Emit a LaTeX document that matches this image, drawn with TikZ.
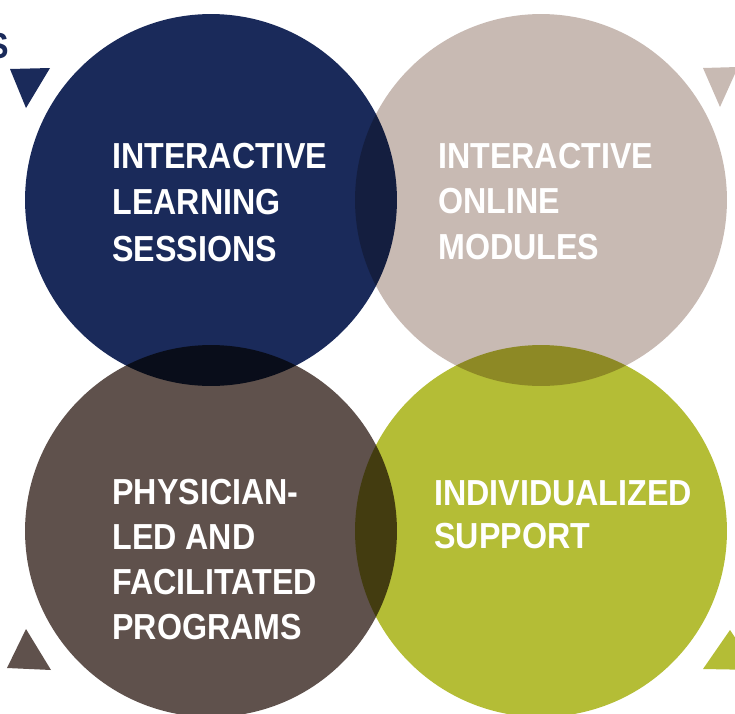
\documentclass[tikz,border=0pt]{standalone}
\usepackage{fontspec}
\newfontfamily\narrowsans[FakeStretch=0.89]{Liberation Sans}
\definecolor{navy}{HTML}{1A2A5A}
\definecolor{taupe}{HTML}{C8BAB3}
\definecolor{umber}{HTML}{5F514C}
\definecolor{olive}{HTML}{B4BD36}
\tikzset{bubble/.style={shape=circle,inner sep=0pt,minimum size=7.44cm,blend mode=multiply}}
\tikzset{caption/.style={anchor=base west,inner sep=0pt,text=white,font=\narrowsans\bfseries\fontsize{20.6}{24}\selectfont}}

\begin{document}
\begin{tikzpicture}[x=0.02cm,y=-0.02cm]
    \useasboundingbox (0,0) rectangle (735,714);
    \clip (0,0) rectangle (735,714);

    \fill[navy] (10,69) -- (50,68) -- (26,108) -- cycle;
    \fill[taupe] (703,68) -- (738,67) -- (720,107) -- cycle;
    \fill[umber] (26,629) -- (51,670) -- (7,668) -- cycle;
    \fill[olive] (730,630) -- (757,670) -- (703,669) -- cycle;

    \node[bubble,fill=navy] (A) at (211,200) {};
    \node[bubble,fill=taupe] (B) at (541,200) {};
    \node[bubble,fill=umber] (C) at (211,531) {};
    \node[bubble,fill=olive] (D) at (541,531) {};

    \node[caption,anchor=base east,text=navy] (S) at (9,58) {S};

    \node[caption] (A1) at (112,168) {INTERACTIVE};
    \node[caption] (A2) at (112,214) {LEARNING};
    \node[caption] (A3) at (112,261) {SESSIONS};

    \node[caption] (B1) at (438,168) {INTERACTIVE};
    \node[caption] (B2) at (438,213) {ONLINE};
    \node[caption] (B3) at (438,259) {MODULES};

    \node[caption] (C1) at (112,504) {PHYSICIAN-};
    \node[caption] (C2) at (112,549) {LED AND};
    \node[caption] (C3) at (112,594) {FACILITATED};
    \node[caption] (C4) at (112,639) {PROGRAMS};

    \node[caption] (D1) at (434,505) {INDIVIDUALIZED};
    \node[caption] (D2) at (434,548) {SUPPORT};
\end{tikzpicture}
\end{document}
